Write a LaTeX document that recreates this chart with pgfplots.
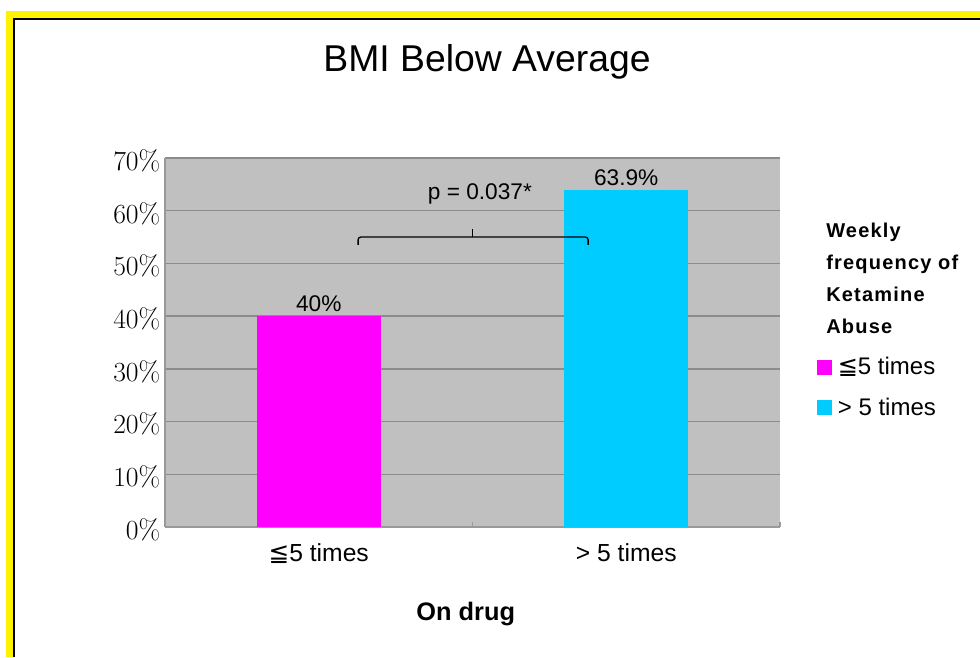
\documentclass[border=0pt]{standalone}
\usepackage{fontspec}
\setsansfont{Liberation Sans}
\newfontfamily\dejavu{DejaVu Sans}
\newfontfamily\legtitle{Liberation Sans}[LetterSpace=6]
\usepackage{pgfplots}
\pgfplotsset{compat=1.18}
\definecolor{bargray}{HTML}{C0C0C0}
\definecolor{gridgray}{HTML}{8C8C8C}
\definecolor{axgray}{HTML}{999999}
\definecolor{mag}{HTML}{FF00FF}
\definecolor{cyn}{HTML}{00CCFF}
\newcommand\lefive{{\dejavu ≦}5 times}
\begin{document}
\begin{tikzpicture}[font=\sffamily]
\begin{scope}[x=0.75pt,y=0.75pt]
\useasboundingbox (0,0) rectangle (980,657);
\fill[yellow] (6,0) rectangle (980,646);
\fill[black] (13,0) rectangle (980,639);
\fill[white] (15,0) rectangle (980,637);
\node[font=\sffamily\fontsize{28}{28}\selectfont] at (487,595) {BMI Below Average};
\end{scope}
\begin{axis}[
  at={(123.75pt,97.5pt)}, anchor=south west,
  scale only axis, width=461.25pt, height=276.75pt,
  xmin=0, xmax=2, ymin=0, ymax=70,
  axis background/.style={fill=bargray},
  axis x line=bottom, axis y line=left,
  axis line style={-, axgray, line width=1.6pt},
  ymajorgrids, grid style={gridgray, line width=1.1pt},
  ytick={0,10,...,70},
  yticklabel={$\pgfmathprintnumber{\tick}\%$},
  yticklabel style={font=\rmfamily\fontsize{21}{21}\selectfont, yshift=-2pt},
  xtick={0.5,1.5}, xticklabels={\lefive, > 5 times},
  major tick length=0pt,
  xticklabel style={font=\sffamily\fontsize{18.5}{18.5}\selectfont, yshift=-9pt},
  xlabel={On drug},
  xlabel style={font=\sffamily\bfseries\fontsize{19}{19}\selectfont, at={(axis description cs:0.489,-0.237)}, anchor=center},
  ybar, bar width=93pt,
  nodes near coords={\pgfmathprintnumber[assume math mode=true]{\pgfplotspointmeta}\%},
  nodes near coords style={font=\sffamily\fontsize{17}{17}\selectfont},
  legend cell align=left,
  legend image code/.code={\fill[#1,/tikz/.cd] (0pt,-5.6pt) rectangle (11.25pt,5.6pt); \path (13.5pt,0pt);},
  legend style={draw=none, fill=none, at={(axis description cs:1.060,0.378)}, anchor=west,
    font=\sffamily\fontsize{18}{18}\selectfont, row sep=12pt, inner sep=0pt},
  clip=false,
]
\addplot[fill=mag, draw=none, bar shift=0pt] coordinates {(0.5,40)};
\addplot[fill=cyn, draw=none, bar shift=0pt] coordinates {(1.5,63.9)};
\legend{\lefive, > 5 times}
\draw[axgray, line width=1.2pt] (axis cs:1,0) -- ++(0pt,4pt);
\draw[axgray, line width=1.2pt] (axis cs:2,0) -- ++(0pt,4pt);
\draw[line width=1pt, rounded corners=2pt] (axis cs:0.628,53.5) -- (axis cs:0.628,55) -- (axis cs:1.376,55) -- (axis cs:1.376,53.5);
\draw[line width=1pt] (axis cs:1,55) -- (axis cs:1,56.5);
\node[font=\sffamily\fontsize{17}{17}\selectfont] at (axis cs:1.024,63.2) {p = 0.037*};
\node[anchor=north west, inner sep=0pt, align=left, font=\legtitle\bfseries\fontsize{15}{24}\selectfont] at (axis description cs:1.0748,0.824) {Weekly\\frequency of\\Ketamine\\Abuse};
\end{axis}
\end{tikzpicture}
\end{document}
